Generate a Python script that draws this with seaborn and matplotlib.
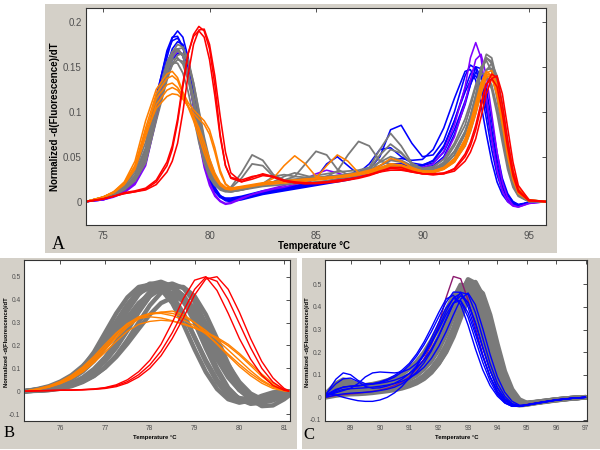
import numpy as np
import pandas as pd
import matplotlib
matplotlib.use("Agg")
import matplotlib.pyplot as plt
from matplotlib.patches import Rectangle
import seaborn as sns

# ---------------- Panel A data (full melt curve) ----------------
TA = [74.2, 75.0, 75.5, 76.0, 76.5, 77.0, 77.5, 78.0, 78.25, 78.5, 78.75, 79.0, 79.25, 79.5, 79.75, 80.0, 80.25, 80.5, 80.75, 81.0,
      81.5, 82.0, 82.5, 83.0, 83.5, 84.0, 84.5, 85.0, 85.5, 86.0, 86.5, 87.0, 87.5, 88.0, 88.5, 89.0, 89.5, 90.0, 90.5, 91.0, 91.5,
      92.0, 92.25, 92.5, 92.75, 93.0, 93.25, 93.5, 93.75, 94.0, 94.25, 94.5, 95.0, 95.8]

A_G1 = [0.000, 0.004, 0.008, 0.015, 0.027, 0.052, 0.108, 0.150, 0.166, 0.175, 0.172, 0.155, 0.128, 0.095, 0.063, 0.040, 0.025, 0.016, 0.012, 0.011,
        0.013, 0.016, 0.018, 0.020, 0.021, 0.022, 0.023, 0.025, 0.026, 0.028, 0.030, 0.032, 0.038, 0.058, 0.076, 0.062, 0.043, 0.036, 0.037, 0.042, 0.056,
        0.078, 0.095, 0.118, 0.143, 0.160, 0.154, 0.128, 0.092, 0.052, 0.024, 0.009, 0.001, 0.000]
A_G2 = [0.000, 0.004, 0.009, 0.016, 0.029, 0.056, 0.110, 0.150, 0.163, 0.168, 0.162, 0.142, 0.112, 0.080, 0.052, 0.032, 0.020, 0.014, 0.013, 0.016,
        0.032, 0.052, 0.046, 0.030, 0.024, 0.024, 0.025, 0.026, 0.027, 0.028, 0.029, 0.030, 0.032, 0.036, 0.040, 0.039, 0.036, 0.034, 0.036, 0.044, 0.062,
        0.085, 0.105, 0.128, 0.150, 0.157, 0.145, 0.115, 0.080, 0.045, 0.020, 0.008, 0.001, 0.000]
A_G3 = [0.000, 0.005, 0.010, 0.018, 0.032, 0.060, 0.112, 0.148, 0.158, 0.160, 0.153, 0.135, 0.108, 0.078, 0.052, 0.033, 0.022, 0.016, 0.014, 0.014,
        0.016, 0.018, 0.020, 0.022, 0.024, 0.028, 0.042, 0.056, 0.052, 0.036, 0.030, 0.031, 0.033, 0.036, 0.040, 0.038, 0.035, 0.033, 0.034, 0.038, 0.048,
        0.068, 0.085, 0.105, 0.130, 0.147, 0.148, 0.128, 0.095, 0.058, 0.028, 0.011, 0.001, 0.000]
A_G4 = [0.000, 0.004, 0.008, 0.014, 0.025, 0.047, 0.098, 0.142, 0.160, 0.170, 0.171, 0.158, 0.132, 0.100, 0.068, 0.043, 0.027, 0.017, 0.013, 0.012,
        0.015, 0.018, 0.020, 0.022, 0.023, 0.024, 0.025, 0.026, 0.028, 0.034, 0.052, 0.067, 0.062, 0.045, 0.042, 0.040, 0.036, 0.034, 0.035, 0.040, 0.052,
        0.075, 0.094, 0.117, 0.145, 0.164, 0.160, 0.135, 0.098, 0.058, 0.027, 0.010, 0.001, 0.000]
A_G5 = [0.000, 0.005, 0.010, 0.019, 0.035, 0.066, 0.118, 0.148, 0.155, 0.154, 0.143, 0.122, 0.095, 0.066, 0.043, 0.027, 0.018, 0.014, 0.013, 0.015,
        0.026, 0.042, 0.040, 0.028, 0.024, 0.025, 0.026, 0.027, 0.028, 0.029, 0.030, 0.032, 0.036, 0.052, 0.064, 0.055, 0.042, 0.037, 0.039, 0.047, 0.065,
        0.092, 0.110, 0.130, 0.143, 0.141, 0.125, 0.098, 0.066, 0.036, 0.016, 0.006, 0.000, 0.000]
A_G6 = [0.000, 0.003, 0.007, 0.013, 0.023, 0.043, 0.090, 0.135, 0.153, 0.163, 0.165, 0.155, 0.132, 0.102, 0.072, 0.047, 0.030, 0.019, 0.014, 0.012,
        0.014, 0.017, 0.020, 0.028, 0.030, 0.028, 0.027, 0.029, 0.031, 0.033, 0.034, 0.035, 0.038, 0.044, 0.050, 0.046, 0.040, 0.036, 0.035, 0.037, 0.045,
        0.062, 0.078, 0.098, 0.122, 0.146, 0.154, 0.140, 0.108, 0.068, 0.034, 0.014, 0.002, 0.000]
A_G7 = [0.000, 0.004, 0.009, 0.016, 0.028, 0.054, 0.112, 0.155, 0.167, 0.170, 0.163, 0.142, 0.110, 0.076, 0.049, 0.030, 0.019, 0.013, 0.011, 0.011,
        0.013, 0.015, 0.017, 0.018, 0.019, 0.020, 0.021, 0.022, 0.023, 0.025, 0.027, 0.029, 0.033, 0.045, 0.058, 0.054, 0.042, 0.035, 0.036, 0.042, 0.056,
        0.078, 0.094, 0.114, 0.133, 0.140, 0.130, 0.105, 0.073, 0.041, 0.018, 0.007, 0.000, 0.000]
A_G8 = [0.000, 0.004, 0.008, 0.015, 0.027, 0.050, 0.100, 0.138, 0.152, 0.158, 0.156, 0.142, 0.117, 0.087, 0.058, 0.037, 0.023, 0.015, 0.012, 0.011,
        0.013, 0.016, 0.019, 0.022, 0.028, 0.032, 0.029, 0.026, 0.027, 0.029, 0.031, 0.033, 0.036, 0.040, 0.046, 0.044, 0.039, 0.035, 0.035, 0.040, 0.052,
        0.076, 0.095, 0.118, 0.145, 0.160, 0.156, 0.133, 0.097, 0.058, 0.028, 0.011, 0.001, 0.000]

A_B1 = [0.000, 0.003, 0.007, 0.013, 0.024, 0.048, 0.105, 0.160, 0.182, 0.190, 0.183, 0.160, 0.123, 0.085, 0.052, 0.028, 0.014, 0.006, 0.002, 0.001,
        0.003, 0.006, 0.009, 0.011, 0.013, 0.015, 0.017, 0.019, 0.021, 0.023, 0.026, 0.029, 0.036, 0.050, 0.080, 0.085, 0.065, 0.050, 0.052, 0.068, 0.100,
        0.140, 0.152, 0.148, 0.125, 0.092, 0.058, 0.030, 0.012, 0.002, -0.003, -0.004, -0.001, 0.000]
A_B2 = [0.000, 0.003, 0.007, 0.014, 0.026, 0.054, 0.115, 0.168, 0.183, 0.184, 0.172, 0.145, 0.108, 0.072, 0.042, 0.022, 0.011, 0.005, 0.003, 0.003,
        0.005, 0.008, 0.011, 0.013, 0.015, 0.017, 0.019, 0.021, 0.023, 0.025, 0.028, 0.032, 0.042, 0.058, 0.060, 0.050, 0.043, 0.041, 0.045, 0.060, 0.090,
        0.126, 0.142, 0.150, 0.138, 0.108, 0.072, 0.040, 0.017, 0.004, -0.002, -0.004, -0.001, 0.000]
A_B3 = [0.000, 0.002, 0.006, 0.011, 0.021, 0.043, 0.097, 0.150, 0.170, 0.178, 0.175, 0.155, 0.120, 0.082, 0.050, 0.027, 0.013, 0.005, 0.001, 0.000,
        0.002, 0.005, 0.008, 0.010, 0.012, 0.014, 0.016, 0.018, 0.020, 0.022, 0.024, 0.027, 0.030, 0.034, 0.038, 0.040, 0.040, 0.040, 0.043, 0.055, 0.080,
        0.112, 0.130, 0.144, 0.140, 0.115, 0.080, 0.047, 0.022, 0.007, 0.000, -0.003, -0.001, 0.000]
A_B4 = [0.000, 0.003, 0.007, 0.013, 0.025, 0.050, 0.108, 0.155, 0.167, 0.170, 0.162, 0.140, 0.106, 0.072, 0.043, 0.023, 0.012, 0.006, 0.004, 0.004,
        0.006, 0.009, 0.012, 0.014, 0.016, 0.018, 0.020, 0.026, 0.042, 0.050, 0.040, 0.030, 0.031, 0.036, 0.042, 0.042, 0.040, 0.040, 0.046, 0.062, 0.090,
        0.122, 0.135, 0.140, 0.130, 0.102, 0.068, 0.038, 0.016, 0.004, -0.002, -0.004, -0.001, 0.000]
A_B5 = [0.000, 0.003, 0.006, 0.012, 0.022, 0.043, 0.092, 0.140, 0.158, 0.165, 0.164, 0.150, 0.122, 0.088, 0.056, 0.031, 0.016, 0.007, 0.003, 0.002,
        0.004, 0.007, 0.010, 0.012, 0.014, 0.016, 0.018, 0.020, 0.022, 0.024, 0.026, 0.029, 0.033, 0.037, 0.041, 0.042, 0.040, 0.038, 0.040, 0.050, 0.075,
        0.108, 0.130, 0.150, 0.148, 0.125, 0.090, 0.055, 0.026, 0.009, 0.000, -0.004, -0.001, 0.000]
A_B6 = [0.000, 0.003, 0.008, 0.015, 0.028, 0.058, 0.118, 0.165, 0.179, 0.182, 0.172, 0.147, 0.112, 0.075, 0.045, 0.024, 0.012, 0.005, 0.002, 0.001,
        0.003, 0.006, 0.009, 0.011, 0.013, 0.015, 0.017, 0.019, 0.021, 0.024, 0.027, 0.030, 0.034, 0.040, 0.046, 0.048, 0.046, 0.047, 0.058, 0.082, 0.115,
        0.145, 0.147, 0.135, 0.108, 0.075, 0.045, 0.022, 0.008, 0.000, -0.004, -0.004, -0.001, 0.000]

A_O1 = [0.000, 0.005, 0.011, 0.022, 0.045, 0.090, 0.125, 0.142, 0.145, 0.138, 0.122, 0.110, 0.102, 0.096, 0.090, 0.080, 0.060, 0.035, 0.020, 0.015,
        0.016, 0.018, 0.020, 0.026, 0.040, 0.051, 0.042, 0.028, 0.026, 0.027, 0.028, 0.030, 0.032, 0.036, 0.040, 0.038, 0.035, 0.033, 0.033, 0.037, 0.046,
        0.066, 0.082, 0.102, 0.126, 0.143, 0.146, 0.130, 0.100, 0.064, 0.033, 0.014, 0.002, 0.000]
A_O2 = [0.000, 0.005, 0.010, 0.020, 0.040, 0.082, 0.120, 0.137, 0.140, 0.135, 0.120, 0.106, 0.098, 0.092, 0.086, 0.075, 0.055, 0.032, 0.019, 0.015,
        0.016, 0.018, 0.019, 0.020, 0.021, 0.022, 0.023, 0.026, 0.040, 0.052, 0.045, 0.032, 0.031, 0.034, 0.038, 0.037, 0.034, 0.032, 0.032, 0.036, 0.044,
        0.062, 0.078, 0.098, 0.120, 0.138, 0.142, 0.128, 0.100, 0.064, 0.034, 0.015, 0.002, 0.000]
A_O3 = [0.000, 0.005, 0.010, 0.020, 0.038, 0.078, 0.115, 0.130, 0.132, 0.127, 0.118, 0.105, 0.090, 0.072, 0.054, 0.038, 0.026, 0.018, 0.014, 0.013,
        0.015, 0.017, 0.019, 0.020, 0.021, 0.022, 0.023, 0.024, 0.025, 0.027, 0.028, 0.030, 0.033, 0.037, 0.042, 0.040, 0.036, 0.034, 0.034, 0.038, 0.048,
        0.070, 0.088, 0.110, 0.132, 0.145, 0.140, 0.118, 0.085, 0.050, 0.024, 0.009, 0.001, 0.000]
A_O4 = [0.000, 0.005, 0.010, 0.019, 0.036, 0.072, 0.108, 0.124, 0.127, 0.124, 0.116, 0.106, 0.094, 0.078, 0.060, 0.042, 0.028, 0.019, 0.015, 0.014,
        0.016, 0.018, 0.020, 0.022, 0.023, 0.024, 0.025, 0.026, 0.027, 0.028, 0.029, 0.031, 0.034, 0.040, 0.048, 0.045, 0.038, 0.034, 0.033, 0.036, 0.044,
        0.064, 0.080, 0.100, 0.124, 0.140, 0.138, 0.120, 0.090, 0.055, 0.027, 0.010, 0.001, 0.000]
A_O5 = [0.000, 0.005, 0.011, 0.021, 0.040, 0.076, 0.104, 0.117, 0.120, 0.119, 0.114, 0.106, 0.095, 0.082, 0.066, 0.048, 0.032, 0.021, 0.016, 0.015,
        0.017, 0.019, 0.021, 0.022, 0.023, 0.024, 0.025, 0.026, 0.027, 0.028, 0.030, 0.032, 0.035, 0.038, 0.042, 0.041, 0.037, 0.034, 0.034, 0.038, 0.047,
        0.068, 0.085, 0.106, 0.128, 0.142, 0.141, 0.124, 0.094, 0.058, 0.029, 0.011, 0.001, 0.000]

A_R1 = [0.000, 0.003, 0.006, 0.009, 0.011, 0.014, 0.022, 0.040, 0.058, 0.088, 0.128, 0.165, 0.186, 0.195, 0.190, 0.170, 0.130, 0.075, 0.040, 0.026,
        0.022, 0.027, 0.031, 0.028, 0.023, 0.021, 0.020, 0.021, 0.022, 0.023, 0.025, 0.027, 0.030, 0.034, 0.037, 0.036, 0.033, 0.031, 0.031, 0.032, 0.036,
        0.050, 0.062, 0.080, 0.105, 0.130, 0.142, 0.138, 0.108, 0.068, 0.034, 0.013, 0.001, 0.000]
A_R2 = [0.000, 0.003, 0.006, 0.009, 0.011, 0.013, 0.019, 0.033, 0.045, 0.065, 0.100, 0.142, 0.175, 0.191, 0.192, 0.175, 0.140, 0.095, 0.055, 0.032,
        0.022, 0.025, 0.029, 0.028, 0.024, 0.022, 0.021, 0.021, 0.022, 0.024, 0.025, 0.027, 0.030, 0.033, 0.035, 0.035, 0.033, 0.031, 0.030, 0.031, 0.034,
        0.045, 0.055, 0.070, 0.094, 0.120, 0.137, 0.140, 0.120, 0.082, 0.044, 0.018, 0.002, 0.000]
A_R3 = [0.000, 0.003, 0.006, 0.010, 0.012, 0.015, 0.024, 0.044, 0.062, 0.092, 0.132, 0.165, 0.184, 0.190, 0.183, 0.158, 0.118, 0.072, 0.040, 0.027,
        0.024, 0.028, 0.030, 0.027, 0.023, 0.021, 0.020, 0.020, 0.021, 0.022, 0.024, 0.026, 0.029, 0.033, 0.038, 0.038, 0.034, 0.031, 0.030, 0.031, 0.037,
        0.053, 0.066, 0.085, 0.110, 0.131, 0.137, 0.128, 0.098, 0.060, 0.029, 0.011, 0.001, 0.000]

A_P1 = [0.000, 0.002, 0.006, 0.011, 0.021, 0.045, 0.100, 0.150, 0.165, 0.170, 0.163, 0.140, 0.105, 0.068, 0.038, 0.018, 0.006, 0.000, -0.003, -0.002,
        0.003, 0.008, 0.012, 0.015, 0.018, 0.021, 0.025, 0.031, 0.035, 0.032, 0.028, 0.028, 0.030, 0.034, 0.038, 0.039, 0.038, 0.038, 0.042, 0.056, 0.085,
        0.128, 0.160, 0.177, 0.160, 0.115, 0.070, 0.035, 0.012, 0.000, -0.005, -0.006, -0.002, 0.000]
A_P2 = [0.000, 0.002, 0.005, 0.010, 0.019, 0.040, 0.092, 0.142, 0.160, 0.167, 0.163, 0.145, 0.112, 0.075, 0.043, 0.021, 0.008, 0.001, -0.002, -0.001,
        0.004, 0.008, 0.011, 0.014, 0.016, 0.019, 0.022, 0.025, 0.028, 0.029, 0.029, 0.030, 0.032, 0.035, 0.037, 0.038, 0.037, 0.036, 0.038, 0.048, 0.072,
        0.110, 0.135, 0.158, 0.164, 0.140, 0.098, 0.055, 0.022, 0.004, -0.004, -0.006, -0.002, 0.000]

# ---------------- Panel B data (low-temperature peak) ----------------
TB = [75.2, 75.5, 75.75, 76.0, 76.25, 76.5, 76.75, 77.0, 77.25, 77.5, 77.75, 78.0, 78.25, 78.5, 78.75,
      79.0, 79.25, 79.5, 79.75, 80.0, 80.25, 80.5, 80.75, 81.0, 81.1]

B_G1 = [0.000, 0.008, 0.018, 0.035, 0.062, 0.105, 0.170, 0.255, 0.340, 0.410, 0.455, 0.465, 0.445, 0.385, 0.292, 0.183, 0.084, 0.010, -0.035, -0.050, -0.040, -0.020, -0.005, 0.000, 0.000]
B_G2 = [0.000, 0.006, 0.015, 0.031, 0.053, 0.086, 0.132, 0.193, 0.270, 0.351, 0.422, 0.466, 0.478, 0.458, 0.397, 0.300, 0.188, 0.086, 0.010, -0.036, -0.051, -0.041, -0.020, -0.005, -0.002]
B_G3 = [0.000, 0.003, 0.006, 0.015, 0.030, 0.052, 0.085, 0.130, 0.190, 0.265, 0.345, 0.415, 0.458, 0.470, 0.450, 0.390, 0.295, 0.185, 0.085, 0.010, -0.035, -0.050, -0.040, -0.020, -0.010]
B_G4 = [0.000, 0.008, 0.018, 0.035, 0.058, 0.090, 0.135, 0.190, 0.255, 0.322, 0.385, 0.425, 0.440, 0.430, 0.390, 0.320, 0.230, 0.140, 0.060, 0.005, -0.025, -0.032, -0.022, -0.008, -0.003]
B_G5 = [0.000, 0.003, 0.006, 0.013, 0.025, 0.043, 0.068, 0.103, 0.150, 0.208, 0.272, 0.335, 0.385, 0.408, 0.403, 0.365, 0.295, 0.205, 0.115, 0.040, -0.010, -0.035, -0.035, -0.018, -0.010]
B_G6 = [0.000, 0.010, 0.022, 0.042, 0.070, 0.110, 0.162, 0.228, 0.305, 0.378, 0.428, 0.452, 0.450, 0.410, 0.335, 0.235, 0.135, 0.050, -0.005, -0.030, -0.035, -0.025, -0.010, -0.002, 0.000]
B_G7 = [0.000, 0.002, 0.005, 0.011, 0.022, 0.040, 0.066, 0.104, 0.156, 0.224, 0.300, 0.375, 0.430, 0.458, 0.455, 0.415, 0.335, 0.230, 0.120, 0.025, -0.035, -0.065, -0.062, -0.035, -0.020]
B_G8 = [0.000, 0.003, 0.008, 0.018, 0.035, 0.060, 0.097, 0.148, 0.215, 0.295, 0.375, 0.435, 0.466, 0.462, 0.415, 0.325, 0.210, 0.100, 0.015, -0.035, -0.055, -0.050, -0.030, -0.010, -0.005]
B_G9 = [0.000, 0.003, 0.007, 0.016, 0.031, 0.054, 0.088, 0.135, 0.198, 0.272, 0.350, 0.415, 0.448, 0.450, 0.418, 0.350, 0.258, 0.160, 0.070, 0.005, -0.035, -0.048, -0.038, -0.018, -0.008]
B_G10 = [0.000, 0.007, 0.017, 0.034, 0.058, 0.095, 0.148, 0.218, 0.300, 0.378, 0.440, 0.470, 0.465, 0.420, 0.340, 0.235, 0.128, 0.040, -0.018, -0.045, -0.045, -0.030, -0.012, -0.002, 0.000]

B_O1 = [0.000, 0.010, 0.022, 0.040, 0.065, 0.100, 0.145, 0.195, 0.250, 0.295, 0.325, 0.340, 0.345, 0.340, 0.325, 0.300, 0.265, 0.225, 0.180, 0.135, 0.090, 0.050, 0.020, 0.003, 0.000]
B_O2 = [0.000, 0.008, 0.018, 0.034, 0.056, 0.088, 0.130, 0.180, 0.232, 0.280, 0.315, 0.335, 0.345, 0.350, 0.335, 0.300, 0.255, 0.205, 0.155, 0.108, 0.068, 0.035, 0.012, 0.001, 0.000]
B_O3 = [0.000, 0.011, 0.024, 0.043, 0.070, 0.106, 0.152, 0.205, 0.255, 0.295, 0.318, 0.325, 0.320, 0.308, 0.292, 0.275, 0.255, 0.230, 0.198, 0.158, 0.112, 0.065, 0.028, 0.005, 0.000]
B_O4 = [0.000, 0.009, 0.020, 0.037, 0.060, 0.094, 0.138, 0.188, 0.240, 0.288, 0.322, 0.338, 0.340, 0.330, 0.312, 0.285, 0.250, 0.208, 0.162, 0.118, 0.078, 0.044, 0.018, 0.003, 0.000]
B_O5 = [0.000, 0.008, 0.018, 0.033, 0.054, 0.084, 0.124, 0.170, 0.218, 0.262, 0.292, 0.305, 0.310, 0.306, 0.295, 0.278, 0.258, 0.235, 0.205, 0.165, 0.120, 0.075, 0.035, 0.008, 0.002]

B_R1 = [0.000, 0.002, 0.003, 0.004, 0.005, 0.007, 0.010, 0.016, 0.028, 0.050, 0.085, 0.135, 0.205, 0.300, 0.405, 0.485, 0.500, 0.440, 0.340, 0.230, 0.140, 0.070, 0.025, 0.004, 0.000]
B_R2 = [0.000, 0.002, 0.003, 0.004, 0.005, 0.006, 0.008, 0.012, 0.020, 0.036, 0.062, 0.100, 0.155, 0.230, 0.320, 0.420, 0.490, 0.500, 0.445, 0.345, 0.230, 0.130, 0.058, 0.012, 0.003]
B_R3 = [0.000, 0.002, 0.003, 0.004, 0.005, 0.007, 0.009, 0.014, 0.024, 0.042, 0.072, 0.115, 0.175, 0.255, 0.350, 0.445, 0.498, 0.480, 0.400, 0.295, 0.190, 0.100, 0.040, 0.007, 0.001]

# ---------------- Panel C data (high-temperature peak) ----------------
TC = [88.15, 88.5, 88.75, 89.0, 89.25, 89.5, 89.75, 90.0, 90.25, 90.5, 90.75, 91.0, 91.25, 91.5, 91.75, 92.0,
      92.25, 92.5, 92.75, 93.0, 93.25, 93.5, 93.75, 94.0, 94.25, 94.5, 94.75, 95.0, 95.5, 96.0, 96.5, 97.0]

C_G1 = [0.015, 0.060, 0.078, 0.070, 0.055, 0.050, 0.050, 0.052, 0.055, 0.060, 0.068, 0.080, 0.098, 0.125, 0.162, 0.212,
        0.278, 0.360, 0.452, 0.522, 0.505, 0.415, 0.285, 0.160, 0.062, 0.000, -0.025, -0.028, -0.020, -0.012, -0.005, 0.000]
C_G2 = [0.010, 0.030, 0.040, 0.042, 0.042, 0.045, 0.048, 0.052, 0.057, 0.065, 0.077, 0.095, 0.120, 0.155, 0.202, 0.265,
        0.345, 0.435, 0.498, 0.485, 0.400, 0.275, 0.155, 0.060, 0.002, -0.025, -0.030, -0.027, -0.018, -0.010, -0.004, 0.000]
C_G3 = [0.005, 0.020, 0.028, 0.030, 0.030, 0.032, 0.035, 0.038, 0.041, 0.045, 0.051, 0.060, 0.074, 0.096, 0.128, 0.172,
        0.230, 0.305, 0.395, 0.480, 0.510, 0.450, 0.330, 0.195, 0.085, 0.015, -0.022, -0.030, -0.022, -0.013, -0.006, 0.000]
C_G4 = [0.008, 0.035, 0.048, 0.050, 0.050, 0.052, 0.055, 0.058, 0.063, 0.070, 0.080, 0.095, 0.116, 0.145, 0.184, 0.234,
        0.296, 0.368, 0.440, 0.478, 0.455, 0.380, 0.275, 0.165, 0.075, 0.015, -0.018, -0.025, -0.018, -0.010, -0.004, 0.000]
C_G5 = [0.000, 0.008, 0.012, 0.014, 0.015, 0.017, 0.020, 0.024, 0.028, 0.033, 0.040, 0.050, 0.063, 0.082, 0.110, 0.150,
        0.205, 0.278, 0.370, 0.445, 0.458, 0.395, 0.285, 0.165, 0.068, 0.008, -0.022, -0.028, -0.020, -0.012, -0.005, 0.000]
C_G6 = [0.012, 0.045, 0.060, 0.058, 0.050, 0.048, 0.050, 0.053, 0.058, 0.064, 0.074, 0.088, 0.108, 0.137, 0.178, 0.232,
        0.302, 0.385, 0.470, 0.515, 0.470, 0.360, 0.230, 0.118, 0.038, -0.012, -0.030, -0.030, -0.020, -0.011, -0.004, 0.000]
C_G7 = [0.003, 0.015, 0.022, 0.025, 0.026, 0.028, 0.031, 0.034, 0.037, 0.041, 0.047, 0.055, 0.067, 0.085, 0.112, 0.150,
        0.200, 0.268, 0.352, 0.440, 0.488, 0.460, 0.365, 0.235, 0.115, 0.035, -0.010, -0.025, -0.020, -0.012, -0.005, 0.000]
C_G8 = [0.010, 0.040, 0.062, 0.065, 0.058, 0.052, 0.054, 0.058, 0.063, 0.070, 0.082, 0.098, 0.122, 0.156, 0.200, 0.258,
        0.330, 0.415, 0.490, 0.500, 0.430, 0.315, 0.190, 0.085, 0.018, -0.020, -0.030, -0.028, -0.018, -0.010, -0.004, 0.000]
C_G9 = [0.010, 0.035, 0.045, 0.048, 0.050, 0.053, 0.058, 0.065, 0.074, 0.086, 0.103, 0.126, 0.157, 0.198, 0.250, 0.312,
        0.382, 0.448, 0.478, 0.450, 0.365, 0.250, 0.140, 0.055, 0.000, -0.028, -0.035, -0.032, -0.020, -0.010, -0.004, 0.000]

C_B1 = [0.010, 0.080, 0.108, 0.100, 0.075, 0.060, 0.060, 0.065, 0.075, 0.090, 0.112, 0.142, 0.182, 0.232, 0.290, 0.355,
        0.420, 0.466, 0.465, 0.400, 0.295, 0.185, 0.090, 0.020, -0.022, -0.038, -0.040, -0.033, -0.022, -0.012, -0.005, 0.000]
C_B2 = [0.005, 0.020, 0.030, 0.040, 0.060, 0.090, 0.108, 0.112, 0.110, 0.108, 0.112, 0.125, 0.150, 0.190, 0.245, 0.310,
        0.380, 0.440, 0.460, 0.420, 0.330, 0.220, 0.120, 0.042, -0.008, -0.032, -0.040, -0.035, -0.023, -0.012, -0.005, 0.000]
C_B3 = [0.015, 0.010, 0.000, -0.008, -0.015, -0.018, -0.018, -0.012, 0.000, 0.020, 0.048, 0.085, 0.135, 0.195, 0.260, 0.330,
        0.395, 0.438, 0.425, 0.355, 0.255, 0.155, 0.072, 0.012, -0.025, -0.040, -0.040, -0.033, -0.022, -0.012, -0.005, 0.000]
C_B4 = [0.008, 0.030, 0.045, 0.050, 0.052, 0.055, 0.058, 0.062, 0.068, 0.076, 0.088, 0.105, 0.130, 0.165, 0.212, 0.272,
        0.342, 0.415, 0.465, 0.455, 0.375, 0.262, 0.150, 0.062, 0.005, -0.028, -0.038, -0.035, -0.024, -0.013, -0.005, 0.000]
C_B5 = [0.012, 0.060, 0.082, 0.085, 0.070, 0.048, 0.040, 0.042, 0.050, 0.062, 0.080, 0.105, 0.140, 0.185, 0.240, 0.300,
        0.365, 0.418, 0.428, 0.375, 0.280, 0.180, 0.092, 0.028, -0.015, -0.035, -0.040, -0.034, -0.022, -0.012, -0.005, 0.000]
C_B6 = [0.010, 0.035, 0.045, 0.048, 0.050, 0.054, 0.060, 0.068, 0.080, 0.097, 0.120, 0.150, 0.192, 0.245, 0.308, 0.375,
        0.435, 0.452, 0.410, 0.320, 0.215, 0.122, 0.052, 0.005, -0.025, -0.040, -0.040, -0.034, -0.022, -0.012, -0.005, 0.000]
C_B7 = [0.000, 0.010, 0.015, 0.018, 0.020, 0.022, 0.025, 0.030, 0.036, 0.045, 0.060, 0.082, 0.112, 0.152, 0.205, 0.270,
        0.345, 0.415, 0.450, 0.418, 0.330, 0.220, 0.118, 0.042, -0.006, -0.030, -0.038, -0.034, -0.023, -0.012, -0.005, 0.000]
C_B8 = [0.005, 0.025, 0.035, 0.038, 0.040, 0.042, 0.045, 0.049, 0.054, 0.061, 0.071, 0.085, 0.105, 0.133, 0.172, 0.225,
        0.290, 0.365, 0.435, 0.462, 0.410, 0.305, 0.190, 0.090, 0.022, -0.018, -0.035, -0.034, -0.023, -0.012, -0.005, 0.000]

C_P1 = [0.000, 0.008, 0.012, 0.015, 0.018, 0.022, 0.026, 0.032, 0.040, 0.052, 0.068, 0.092, 0.125, 0.170, 0.232, 0.320,
        0.440, 0.535, 0.525, 0.430, 0.310, 0.190, 0.090, 0.025, -0.015, -0.035, -0.038, -0.032, -0.021, -0.011, -0.004, 0.000]

# ---------------- Styling ----------------
GRAY = "#7a7a7a"
BLUE = "#0000ff"
ORANGE = "#ff8000"
RED = "#ff0000"
VIOLET = "#8000ff"
MAGENTA = "#8c1a6e"
FRAME = "#d4d0c8"

sns.set_style("white")
plt.rcParams["font.family"] = ["Liberation Sans", "DejaVu Sans"]

fig = plt.figure(figsize=(6, 4.5), dpi=100)
fig.patch.set_facecolor("white")


def fx(px):
    return px / 600.0


def fy(py):
    return 1.0 - py / 450.0


def frame(x0, y0, x1, y1):
    fig.add_artist(Rectangle((fx(x0), fy(y1)), (x1 - x0) / 600.0, (y1 - y0) / 450.0,
                             transform=fig.transFigure, facecolor=FRAME, edgecolor="none", zorder=-10))


def make_ax(x0, y0, x1, y1):
    return fig.add_axes([fx(x0), fy(y1), (x1 - x0) / 600.0, (y1 - y0) / 450.0])


def draw(ax, x, curves, color, lw):
    n = len(x)
    for c in curves:
        assert len(c) == n, (len(c), n)
    df = pd.DataFrame({
        "T": np.tile(np.asarray(x, dtype=float), len(curves)),
        "v": np.concatenate([np.asarray(c, dtype=float) for c in curves]),
        "curve": np.repeat(np.arange(len(curves)), n),
    })
    sns.lineplot(data=df, x="T", y="v", units="curve", estimator=None, color=color,
                 lw=lw, ax=ax, sort=False, legend=False)


def style(ax, xlim, ylim, xticks, yticks, ylabels, fs, xpad, ypad):
    ax.set_xlim(*xlim)
    ax.set_ylim(*ylim)
    ax.set_xticks(xticks)
    ax.set_xticklabels([str(t) for t in xticks])
    ax.set_yticks(yticks)
    ax.set_yticklabels(ylabels)
    ax.set_xlabel("")
    ax.set_ylabel("")
    ax.set_facecolor("white")
    ax.tick_params(axis="both", direction="in", top=True, right=True, length=3, width=0.6,
                   color="#333333", labelcolor="#505050", labelsize=fs)
    ax.tick_params(axis="x", pad=xpad)
    ax.tick_params(axis="y", pad=ypad)
    for s in ax.spines.values():
        s.set_visible(True)
        s.set_color("#333333")
        s.set_linewidth(0.8)


# frames
frame(45, 4, 557, 253)
frame(0, 258, 297, 449)
frame(302, 258, 600, 449)

# ---- Panel A ----
axA = make_ax(86, 8, 546, 225)
draw(axA, TA, [A_B1, A_B2, A_B3, A_B4, A_B5, A_B6], BLUE, 1.15)
draw(axA, TA, [A_P1, A_P2], VIOLET, 1.15)
draw(axA, TA, [A_G1, A_G2, A_G3, A_G4, A_G5, A_G6, A_G7, A_G8], GRAY, 1.3)
draw(axA, TA, [A_O1, A_O2, A_O3, A_O4, A_O5], ORANGE, 1.15)
draw(axA, TA, [A_R1, A_R2, A_R3], RED, 1.15)
style(axA, (74.2, 95.8), (-0.026, 0.2155), [75, 80, 85, 90, 95],
      [0, 0.05, 0.1, 0.15, 0.2], ["0", "0.05", "0.1", "0.15", "0.2"], 7, 4.5, 3)

fig.text(fx(55), fy(117), "Normalized -d(Fluorescence)/dT", rotation=90, ha="center", va="center",
         fontsize=7, fontweight="bold", color="black")
fig.text(fx(314), fy(246), "Temperature \u00b0C", ha="center", va="center",
         fontsize=7, fontweight="bold", color="black")
fig.text(fx(58), fy(245), "A", ha="center", va="center", fontsize=13,
         family=["Liberation Serif", "DejaVu Serif"], color="black")

# ---- Panel B ----
axB = make_ax(24, 260, 290, 421)
draw(axB, TB, [B_G1, B_G2, B_G3, B_G4, B_G5, B_G6, B_G7, B_G8, B_G9, B_G10], GRAY, 3.2)
draw(axB, TB, [B_O1, B_O2, B_O3, B_O4, B_O5], ORANGE, 1.0)
draw(axB, TB, [B_R1, B_R2, B_R3], RED, 1.0)
style(axB, (75.19, 81.13), (-0.13, 0.573), [76, 77, 78, 79, 80, 81],
      [-0.1, 0, 0.1, 0.2, 0.3, 0.4, 0.5], ["-0.1", "0", "0.1", "0.2", "0.3", "0.4", "0.5"], 4.8, 3, 2.5)
fig.text(fx(7), fy(342), "Normalized -d(Fluorescence)/dT", rotation=90, ha="center", va="center",
         fontsize=4.2, fontweight="bold", color="black")
fig.text(fx(155), fy(438), "Temperature \u00b0C", ha="center", va="center",
         fontsize=4.2, fontweight="bold", color="black")
fig.text(fx(9), fy(433), "B", ha="center", va="center", fontsize=12,
         family=["Liberation Serif", "DejaVu Serif"], color="black")

# ---- Panel C ----
axC = make_ax(325, 260, 587, 421)
draw(axC, TC, [C_G1, C_G2, C_G3, C_G4, C_G5, C_G6, C_G7, C_G8, C_G9], GRAY, 3.4)
draw(axC, TC, [C_P1], MAGENTA, 1.0)
draw(axC, TC, [C_B1, C_B2, C_B3, C_B4, C_B5, C_B6, C_B7, C_B8], BLUE, 1.0)
style(axC, (88.13, 97.05), (-0.105, 0.608), [89, 90, 91, 92, 93, 94, 95, 96, 97],
      [-0.1, 0, 0.1, 0.2, 0.3, 0.4, 0.5], ["-0.1", "0", "0.1", "0.2", "0.3", "0.4", "0.5"], 4.8, 3, 2.5)
fig.text(fx(308), fy(342), "Normalized -d(Fluorescence)/dT", rotation=90, ha="center", va="center",
         fontsize=4.2, fontweight="bold", color="black")
fig.text(fx(457), fy(438), "Temperature \u00b0C", ha="center", va="center",
         fontsize=4.2, fontweight="bold", color="black")
fig.text(fx(309), fy(435), "C", ha="center", va="center", fontsize=12,
         family=["Liberation Serif", "DejaVu Serif"], color="black")

fig.savefig("out.png", dpi=100)
